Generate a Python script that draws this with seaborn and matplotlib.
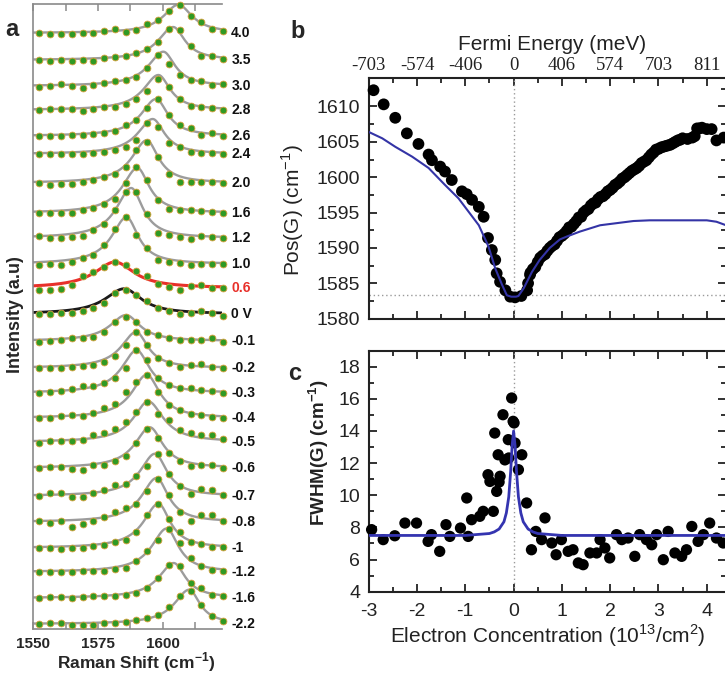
import numpy as np
import pandas as pd
import matplotlib
matplotlib.use("Agg")
import matplotlib.pyplot as plt
import seaborn as sns
from matplotlib.ticker import MultipleLocator, FixedLocator

sns.set_theme(style="white")
plt.rcParams['font.family'] = ['Liberation Sans', 'DejaVu Sans']
plt.rcParams['mathtext.fontset'] = 'custom'
plt.rcParams['mathtext.rm'] = 'Liberation Sans'
plt.rcParams['mathtext.bf'] = 'Liberation Sans:bold'
plt.rcParams['axes.unicode_minus'] = False

# ---------------- panel a data ----------------
gate_labels = ["4.0", "3.5", "3.0", "2.8", "2.6", "2.4", "2.0", "1.6", "1.2", "1.0", "0.6", "0 V",
               "-0.1", "-0.2", "-0.3", "-0.4", "-0.5", "-0.6", "-0.7", "-0.8", "-1", "-1.2", "-1.6", "-2.2"]
stack_offsets = [597, 570, 544, 520, 494, 476, 447, 417, 392, 366, 342, 316,
                 289, 262, 237, 212, 188, 162, 134, 108, 82, 58, 32, 6]
peak_centers = [1606.0, 1604.0, 1600.2, 1598.3, 1597.4, 1596.1, 1593.8, 1590.2, 1587.8, 1586.0, 1581.5, 1585.1,
                1585.8, 1589.7, 1589.9, 1593.8, 1594.4, 1595.0, 1597.0, 1597.6, 1598.3, 1601.5, 1604.2, 1610.2]
peak_heights = [28.3, 33, 34.3, 35, 37, 35, 42.7, 45, 50, 46.7, 26, 25.3,
                26, 36, 42.7, 43.3, 40.6, 40.7, 42.3, 44, 44.3, 43.5, 35, 34.3]
hwhm_left = [7, 7, 7, 7, 7, 7, 7, 7, 7, 7, 9.5, 9,
             7.5, 7, 7, 7, 7, 7, 7, 7, 7, 7, 7, 7]
hwhm_right = [6.5, 5.5, 5.5, 5.5, 5.5, 5.5, 5.5, 5.5, 5.5, 5.5, 9, 8,
              6.5, 5.5, 6, 6, 7, 6, 5.5, 5.5, 5.5, 5.5, 5.5, 5.0]
raman_x = [1552.3, 1556.5, 1560.6, 1564.8, 1569.0, 1573.2, 1577.3, 1581.5, 1585.7,
           1589.8, 1594.0, 1598.2, 1602.3, 1606.5, 1610.7, 1614.8, 1619.0, 1623.2]
spectra_dots = [
    [0, -1, -1, -1, 0, 0, 1.7, 4, 1.3, 3.3, 9, 13.3, 21.7, 27.7, 16.7, 11, 4.3, 1.7],
    [0, -0.7, 0, -1, 0, -0.7, 1.7, 2.7, 4, 7.3, 10.7, 18.3, 30.7, 30, 14, 4, 4, 1],
    [-1.3, 0, 2, 0, -2.3, 1, 2.7, 5, 6, 8.7, 17.7, 31, 22, 11, 6, 5, 1, 1.7],
    [0, 0.7, 0.7, 1, -0.7, 0.7, 3.3, 3.3, 5.7, 10.7, 19.3, 30.7, 22.7, 10.7, 4, 2.7, 1.7, 0],
    [0, 0.3, 0.3, 1, 1, 2, 2.7, 5.3, 11, 16, 27.7, 36.7, 21, 11, 7.7, 1, 2.7, 0],
    [0, 0, 0, 0, 0, 0.7, 2.3, 4, 7.3, 14, 30.7, 27.3, 11.3, 7.3, 2.3, 1.3, 0.7, 0],
    [0, -2.3, -0.7, -0.7, 1, 2.7, 6, 9.3, 16, 32.7, 41, 26, 9.3, 1, 1, 1, 1, 0],
    [0, 0, 0, 0, 2.7, 5.3, 9.3, 14.3, 30, 46, 32.7, 13.3, 4.3, 3.3, 2.7, 2, 1, 0],
    [1.7, 0, 0, 1, 2.3, 8.3, 14, 27.7, 45.7, 45.7, 24, 5, 3.3, 1, -1, 1.7, 1, 0],
    [-0.7, 0, -0.7, 2, 6, 9.3, 19.3, 35.3, 46.7, 29.3, 16, 4.3, 2, 1, -0.7, 0, 0, 0],
    [-1.7, -1.7, -0.7, 3.3, 11.7, 16, 21, 26, 23, 17, 11.7, 4.3, 1, -1.7, 1.7, 3.3, 0, 0],
    [0, 0, 1, 1, 2.7, 6, 11, 21, 24.3, 19.3, 12.7, 6, 2.7, 0, 1, 3.3, 1, -2.3],
    [-0.7, 0, 1, 2.7, 3.3, 4.3, 9.3, 19.3, 24.3, 19.3, 9.3, 6, 2.7, 1, 1, 1, 2.7, -0.7],
    [0, 0, 0, 1, 1.7, 3.3, 5.7, 11.7, 23.3, 36, 23.3, 10, 5, 0.7, 3.3, 4, 0.7, 0],
    [0, 0.7, 2.3, 4.3, 6.7, 6.7, 10, 15, 25, 42.7, 33.3, 15, 8.3, 5, 5, 3.3, 1.7, 0],
    [0, 0, 1.7, 2.7, 1.7, 5, 10, 14, 26, 36, 43, 26, 13, 8, 4, 3, 1, 0],
    [-1, 1.3, 1.3, 1.3, 2.3, 6.7, 9, 13.3, 20, 30, 40, 28, 22.3, 12.3, 9, 6.7, 6.7, 3.3],
    [0, 0.7, 0.7, -0.7, -1.7, 2.7, 3.3, 6.7, 12, 25, 39, 30, 15, 6.7, 1.7, 3.3, 3.3, 0],
    [0, 3.3, 3.3, -1, -1, 3.3, 5.7, 10.7, 12.3, 20, 30, 42, 22, 10.5, 2.3, 7.3, 5.7, 0.7],
    [0.7, -0.7, 0.7, -5, -1.7, 0.7, 5, 10, 14, 18.3, 30.7, 43.3, 26.7, 10, 0.7, 6.7, 6.7, 0.7],
    [0, 0, -0.7, 0, 0, 1.7, 2.7, 6, 7.7, 16, 32.7, 44.3, 29.3, 16, 6, 4.3, 1, 1],
    [0, 0, 0, 0, 0.7, 1.3, 1.3, 3.3, 4, 10.7, 20.7, 32.3, 43.3, 29, 14, 5.7, 2.3, 1.3],
    [0, 0.7, 0.7, 0, 0.7, 1.7, 1.7, 1.7, 3.3, 5, 10, 20, 32.7, 31.7, 15, 10, 3.3, 1.7],
    [0, 1, 1, -0.7, -1.3, -0.7, 1, 1, 2, 4.3, 6, 9.3, 16.7, 27.7, 33.3, 19.3, 7.7, 2.7],
]

# ---------------- panel b data ----------------
pos_n = [-2.90, -2.69, -2.45, -2.21, -1.97, -1.76, -1.69, -1.52, -1.42, -1.28, -1.07, -0.97, -0.86,
         -0.72, -0.62, -0.53, -0.45, -0.38, -0.35, -0.28, -0.17, -0.07, 0.03, 0.16, 0.28, 0.34,
         0.30, 0.35, 0.40, 0.45, 0.50, 0.55, 0.60, 0.65, 0.70, 0.75, 0.80, 0.85, 0.90, 0.95,
         1.00, 1.05, 1.10, 1.15, 1.20, 1.25, 1.30, 1.35, 1.40, 1.45, 1.50, 1.55, 1.60, 1.65,
         1.70, 1.75, 1.80, 1.85, 1.90, 1.95, 2.00, 2.05, 2.10, 2.15, 2.20, 2.25, 2.30, 2.35,
         2.40, 2.45, 2.50, 2.55, 2.60, 2.65, 2.70, 2.75, 2.80, 2.85, 2.90, 2.95, 3.00, 3.05,
         3.10, 3.15, 3.20, 3.25, 3.30, 3.35, 3.40, 3.45, 3.50, 3.60, 3.70, 3.75, 3.80, 3.85,
         3.90, 4.00, 4.10, 4.20, 4.35]
pos_g = [1612.3, 1610.3, 1608.4, 1606.2, 1604.7, 1603.2, 1602.4, 1601.5, 1600.8, 1599.6, 1598.0, 1597.6, 1596.8,
         1595.8, 1594.4, 1591.4, 1589.7, 1588.3, 1586.4, 1585.2, 1584.0, 1583.1, 1583.0, 1583.2, 1584.0, 1586.2,
         1585.0, 1586.5, 1587.0, 1587.3, 1588.0, 1588.6, 1588.9, 1589.1, 1589.6, 1590.0, 1590.3, 1590.5, 1591.0, 1591.5,
         1591.7, 1592.0, 1592.4, 1592.9, 1593.0, 1593.4, 1593.8, 1594.3, 1594.4, 1595.0, 1595.3, 1595.5, 1596.0, 1596.3,
         1596.4, 1596.9, 1597.2, 1597.3, 1597.6, 1598.0, 1598.2, 1598.5, 1598.9, 1599.1, 1599.4, 1599.8, 1600.0, 1600.3,
         1600.6, 1600.9, 1601.1, 1601.3, 1601.6, 1602.0, 1602.2, 1602.4, 1602.8, 1603.2, 1603.5, 1603.9, 1604.0, 1604.2,
         1604.3, 1604.4, 1604.5, 1604.6, 1604.8, 1605.0, 1605.2, 1605.3, 1605.5, 1605.4, 1605.6, 1605.8, 1606.9, 1606.9,
         1607.0, 1606.8, 1606.8, 1605.2, 1605.6]
theory_b_n = [-3.0, -2.72, -2.45, -2.10, -1.76, -1.42, -1.14, -0.93, -0.72, -0.52, -0.38, -0.24, -0.14,
              -0.05, 0.05, 0.10, 0.21, 0.38, 0.54, 0.75, 0.96, 1.10, 1.37, 1.79, 2.48, 2.82, 3.30, 4.00, 4.20, 4.40]
theory_b_pos = [1606.4, 1605.5, 1604.3, 1602.9, 1601.3, 1598.9, 1597.0, 1595.1, 1593.2, 1590.2, 1587.1, 1584.8, 1583.3,
                1583.1, 1583.1, 1583.2, 1584.3, 1586.6, 1588.3, 1590.0, 1591.2, 1591.6, 1592.3, 1593.2, 1593.8, 1593.9,
                1593.9, 1593.9, 1593.7, 1593.2]
fermi_ticks = [-3, -2, -1, 0, 1, 2, 3, 4]
fermi_labels = ["-703", "-574", "-406", "0", "406", "574", "703", "811"]

# ---------------- panel c data ----------------
fw_n = [-2.94, -2.70, -2.46, -2.25, -2.01, -1.77, -1.70, -1.53, -1.40, -1.32, -1.10, -0.97, -0.94, -0.87,
        -0.70, -0.63, -0.53, -0.49, -0.42, -0.39, -0.35, -0.32, -0.30, -0.28, -0.22, -0.18, -0.11, -0.10,
        -0.04, -0.01, 0.01, 0.03, 0.10, 0.17, 0.27, 0.37, 0.46, 0.58, 0.65, 0.79, 0.88, 0.99, 1.13, 1.23,
        1.34, 1.44, 1.58, 1.72, 1.79, 1.89, 1.99, 2.13, 2.24, 2.37, 2.51, 2.61, 2.75, 2.86, 2.96, 3.10,
        3.20, 3.34, 3.48, 3.58, 3.69, 3.82, 3.93, 4.06, 4.20, 4.34]
fw_val = [7.86, 7.24, 7.48, 8.27, 8.27, 7.13, 7.55, 6.51, 8.17, 7.44, 7.96, 9.83, 7.44, 8.48,
          8.69, 9.0, 11.28, 10.86, 9.0, 13.87, 10.24, 12.52, 10.82, 11.18, 15.01, 12.2, 13.46, 12.32,
          16.05, 14.6, 14.5, 13.25, 11.59, 12.52, 9.52, 6.61, 7.75, 7.24, 8.59, 7.03, 6.30, 7.24, 6.51, 6.61,
          5.79, 5.68, 6.41, 6.41, 7.24, 6.72, 6.10, 7.55, 7.24, 7.34, 6.20, 7.55, 7.24, 6.92, 7.55, 5.99,
          7.75, 6.41, 6.20, 6.61, 8.06, 7.13, 7.55, 8.27, 7.34, 7.03]
theory_c_n = [-3.0, -1.0, -0.5, -0.4, -0.3, -0.2, -0.15, -0.1, -0.06, -0.03, 0.0,
              0.03, 0.06, 0.1, 0.15, 0.2, 0.3, 0.4, 0.5, 1.0, 4.4]
theory_c_fw = [7.5, 7.5, 7.62, 7.72, 7.9, 8.35, 8.9, 9.9, 11.5, 13.1, 14.0,
               13.1, 11.5, 9.9, 8.9, 8.35, 7.9, 7.72, 7.62, 7.5, 7.5]

# ---------------- figure ----------------
W, H = 725, 677
fig = plt.figure(figsize=(W / 100, H / 100), dpi=100)

# panel a
axa = fig.add_axes([33.3 / W, 1 - 629 / H, 189.1 / W, 625 / H])
grid = np.linspace(1550, 1623.5, 400)
dot_rows = []
for i, lab in enumerate(gate_labels):
    c, h = peak_centers[i], peak_heights[i]
    g = np.where(grid < c, hwhm_left[i], hwhm_right[i])
    fit = stack_offsets[i] + h / (1 + ((grid - c) / g) ** 2)
    if lab == "0.6":
        col, lw = "#e8302a", 2.2
    elif lab == "0 V":
        col, lw = "#1a1a1a", 2.0
    else:
        col, lw = "#9c9c9c", 1.7
    sns.lineplot(x=grid, y=fit, color=col, lw=lw, ax=axa, sort=False, estimator=None, zorder=2)
    for xv, dv in zip(raman_x, spectra_dots[i]):
        dot_rows.append({"shift": xv, "inten": stack_offsets[i] + dv})
    axa.text(1626.4, stack_offsets[i], lab, ha="left", va="center", fontsize=10, fontweight="bold",
             color="#e8302a" if lab == "0.6" else "#111111", clip_on=False)
dots_df = pd.DataFrame(dot_rows)
sns.scatterplot(data=dots_df, x="shift", y="inten", color="#2f9a24", s=24, edgecolor="#d8a03c",
                linewidth=0.6, ax=axa, zorder=3, clip_on=False)
axa.set_xlim(1550, 1623)
axa.set_ylim(1, 626)
axa.set_xlabel("")
axa.set_ylabel("")
axa.set_yticks([])
axa.xaxis.set_major_locator(FixedLocator([1550, 1575, 1600]))
axa.xaxis.set_minor_locator(FixedLocator([1562.5, 1587.5, 1612.5]))
axa.tick_params(axis="x", which="both", direction="in", top=True, bottom=True, color="#8a8a8a",
                width=1.1, labelsize=11, pad=6)
axa.tick_params(axis="x", which="major", length=5)
axa.tick_params(axis="x", which="minor", length=5)
for lbl in axa.get_xticklabels():
    lbl.set_fontweight("bold")
for side in ["left", "bottom", "top"]:
    axa.spines[side].set_color("#8a8a8a")
    axa.spines[side].set_linewidth(1.2)
axa.spines["right"].set_visible(False)

# panel b
xl = (-3, 4.4)
axb = fig.add_axes([368.7 / W, 1 - 318.6 / H, 357.4 / W, (318.6 - 78.2) / H])
axb.axvline(0, color="#9a9a9a", ls=(0, (1, 2)), lw=1.0, zorder=1)
axb.axhline(1583.3, color="#9a9a9a", ls=(0, (1, 2)), lw=1.0, zorder=1)
sns.scatterplot(x=pos_n, y=pos_g, color="black", s=72, edgecolor="none", ax=axb, zorder=3, clip_on=False)
sns.lineplot(x=theory_b_n, y=theory_b_pos, color="#3434a6", lw=1.5, ax=axb, sort=False, estimator=None, zorder=4)
axb.set_xlim(*xl)
axb.set_ylim(1580, 1614)
axb.xaxis.set_major_locator(MultipleLocator(1))
axb.xaxis.set_minor_locator(MultipleLocator(0.5))
axb.yaxis.set_major_locator(MultipleLocator(5))
axb.yaxis.set_minor_locator(MultipleLocator(2.5))
axb.tick_params(axis="x", labelbottom=False)
secax = axb.secondary_xaxis("top")
secax.set_xticks(fermi_ticks)
secax.set_xticklabels(fermi_labels, fontfamily="Liberation Serif", fontsize=13.5)
secax.tick_params(length=0, pad=3, labelcolor="#222222")
secax.spines["top"].set_visible(False)

# panel c
axc = fig.add_axes([368.7 / W, 1 - 591.7 / H, 357.4 / W, (591.7 - 350.6) / H])
axc.axvline(0, color="#9a9a9a", ls=(0, (1, 2)), lw=1.0, zorder=1)
sns.scatterplot(x=fw_n, y=fw_val, color="black", s=66, edgecolor="none", ax=axc, zorder=3, clip_on=False)
sns.lineplot(x=theory_c_n, y=theory_c_fw, color="#3434b0", lw=2.0, ax=axc, sort=False, estimator=None, zorder=4)
axc.set_xlim(*xl)
axc.set_ylim(4, 19)
axc.xaxis.set_major_locator(MultipleLocator(1))
axc.xaxis.set_minor_locator(MultipleLocator(0.5))
axc.yaxis.set_major_locator(MultipleLocator(2))
axc.yaxis.set_minor_locator(MultipleLocator(1))
axc.xaxis.set_major_formatter(matplotlib.ticker.FuncFormatter(lambda v, p: f"{v:.0f}"))

for ax in (axb, axc):
    ax.set_xlabel("")
    ax.set_ylabel("")
    ax.tick_params(which="both", direction="in", top=True, right=True, left=True, bottom=True,
                   color="#222222", width=1.3, labelsize=14, labelcolor="#222222")
    ax.tick_params(which="major", length=6)
    ax.tick_params(which="minor", length=3.5)
    ax.tick_params(axis="y", pad=6)
    ax.tick_params(axis="x", pad=8)
    for sp in ax.spines.values():
        sp.set_color("#222222")
        sp.set_linewidth(1.5)

# texts
fig.text(12 / W, 1 - 30 / H, "a", fontsize=17, fontweight="bold", ha="center", va="center")
fig.text(298 / W, 1 - 31 / H, "b", fontsize=17, fontweight="bold", ha="center", va="center")
fig.text(295 / W, 1 - 373 / H, "c", fontsize=17, fontweight="bold", ha="center", va="center")
fig.text(16 / W, 1 - 315 / H, "Intensity (a.u)", rotation=90, fontsize=13, fontweight="bold",
         ha="center", va="center")
fig.text(136 / W, 1 - 662 / H, r"Raman Shift (cm$^{\mathbf{-1}}$)", fontsize=12.5, fontweight="bold",
         ha="center", va="center")
fig.text(552 / W, 1 - 44 / H, "Fermi Energy (meV)", fontsize=15, ha="center", va="center", color="#222222")
fig.text(548 / W, 1 - 636 / H, r"Electron Concentration (10$^{13}$/cm$^{2}$)", fontsize=15,
         ha="center", va="center", color="#222222")
fig.text(293 / W, 1 - 210 / H, r"Pos(G) (cm$^{-1}$)", rotation=90, fontsize=15, ha="center", va="center",
         color="#222222")
fig.text(319 / W, 1 - 453 / H, r"FWHM(G) (cm$^{\mathbf{-1}}$)", rotation=90, fontsize=13.5, fontweight="bold",
         ha="center", va="center", color="#222222")

fig.savefig("out.png", dpi=100)
